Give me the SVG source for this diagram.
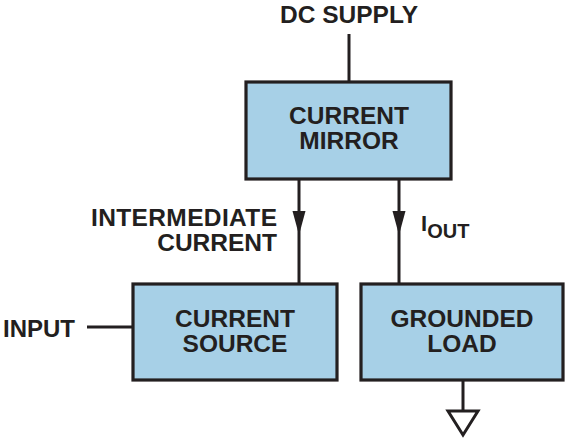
<svg xmlns="http://www.w3.org/2000/svg" width="568" height="439" viewBox="0 0 568 439">
<style>
.box{fill:#a7d0e7;stroke:#231f20;stroke-width:3.2}
.ln{stroke:#231f20;stroke-width:3;fill:none}
.t{font-family:"Liberation Sans",Arial,sans-serif;font-weight:bold;font-size:24.5px;fill:#231f20}
.c{text-anchor:middle}
</style>
<rect width="568" height="439" fill="#fff"/>
<g id="connectors">
<line class="ln" x1="349" y1="34" x2="349" y2="82"/>
<line class="ln" x1="87" y1="327" x2="133" y2="327"/>
<line class="ln" x1="299" y1="179" x2="299" y2="284"/>
<line class="ln" x1="399" y1="179" x2="399" y2="284"/>
<path d="M292.5,211 L305.5,211 L299,235 Z" fill="#231f20"/>
<path d="M392.5,211 L405.5,211 L399,235 Z" fill="#231f20"/>
<line class="ln" x1="463" y1="380" x2="463" y2="411"/>
<path d="M448,411 L478,411 L463,435 Z" fill="#fff" stroke="#231f20" stroke-width="3" stroke-linejoin="miter"/>
</g>
<g id="dc-supply">
<text class="t c" x="349" y="23">DC SUPPLY</text>
</g>
<g id="current-mirror">
<rect class="box" x="246" y="82" width="205" height="97"/>
<text class="t c" x="349" y="124">CURRENT</text>
<text class="t c" x="349" y="149">MIRROR</text>
</g>
<g id="intermediate-label">
<text class="t" x="277" y="226" text-anchor="end" textLength="186">INTERMEDIATE</text>
<text class="t" x="277" y="251" text-anchor="end">CURRENT</text>
</g>
<g id="iout-label">
<text class="t" x="421" y="231" style="font-size:22px">I<tspan dy="7" style="font-size:20px">OUT</tspan></text>
</g>
<g id="input-label">
<text class="t" x="3" y="337" style="font-size:24px">INPUT</text>
</g>
<g id="current-source">
<rect class="box" x="133" y="284" width="204" height="96"/>
<text class="t c" x="235" y="327">CURRENT</text>
<text class="t c" x="235" y="352">SOURCE</text>
</g>
<g id="grounded-load">
<rect class="box" x="361" y="284" width="202" height="96"/>
<text class="t c" x="462" y="327">GROUNDED</text>
<text class="t c" x="462" y="352">LOAD</text>
</g>
</svg>
